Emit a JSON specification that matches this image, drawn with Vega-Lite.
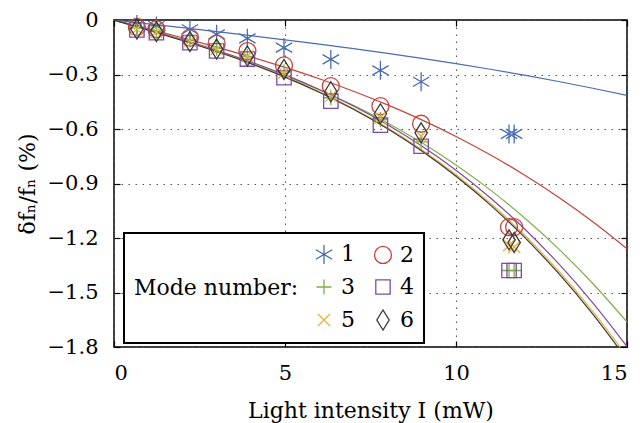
{
  "$schema": "https://vega.github.io/schema/vega-lite/v6.json",
  "width": 513,
  "height": 327,
  "autosize": {"type": "none"},
  "padding": {"left": 114, "top": 20, "right": 15, "bottom": 76},
  "config": {
    "font": "DejaVu Serif",
    "view": {"stroke": "#000", "strokeWidth": 1.5},
    "axis": {
      "domain": false,
      "labelFont": "DejaVu Serif", "labelFontSize": 21, "labelColor": "#000",
      "titleFont": "DejaVu Serif", "titleFontSize": 22, "titleFontWeight": "normal", "titleColor": "#000",
      "tickColor": "#000", "tickSize": -6, "tickWidth": 1.2,
      "gridColor": "#555", "gridDash": [1.5, 5.5], "gridWidth": 1.1
    },
    "legend": {"strokeWidth": 2}
  },
  "datasets": {
    "fit": [
      {"mode": "1", "I": 0, "df": 0}, {"mode": "1", "I": 1, "df": -0.0211}, {"mode": "1", "I": 2, "df": -0.0424}, {"mode": "1", "I": 3, "df": -0.0641}, {"mode": "1", "I": 4, "df": -0.0863}, {"mode": "1", "I": 5, "df": -0.1092}, {"mode": "1", "I": 6, "df": -0.1329}, {"mode": "1", "I": 7, "df": -0.1578}, {"mode": "1", "I": 8, "df": -0.1838}, {"mode": "1", "I": 9, "df": -0.2113}, {"mode": "1", "I": 10, "df": -0.2403}, {"mode": "1", "I": 11, "df": -0.2711}, {"mode": "1", "I": 12, "df": -0.3038}, {"mode": "1", "I": 13, "df": -0.3387}, {"mode": "1", "I": 14, "df": -0.3758}, {"mode": "1", "I": 15, "df": -0.4154},
      {"mode": "2", "I": 0, "df": 0}, {"mode": "2", "I": 1, "df": -0.0484}, {"mode": "2", "I": 2, "df": -0.0977}, {"mode": "2", "I": 3, "df": -0.1489}, {"mode": "2", "I": 4, "df": -0.2030}, {"mode": "2", "I": 5, "df": -0.2609}, {"mode": "2", "I": 6, "df": -0.3235}, {"mode": "2", "I": 7, "df": -0.3919}, {"mode": "2", "I": 8, "df": -0.4670}, {"mode": "2", "I": 9, "df": -0.5497}, {"mode": "2", "I": 10, "df": -0.641}, {"mode": "2", "I": 11, "df": -0.7418}, {"mode": "2", "I": 12, "df": -0.8532}, {"mode": "2", "I": 13, "df": -0.9759}, {"mode": "2", "I": 14, "df": -1.1111}, {"mode": "2", "I": 15, "df": -1.2596},
      {"mode": "3", "I": 0, "df": 0}, {"mode": "3", "I": 1, "df": -0.0552}, {"mode": "3", "I": 2, "df": -0.1120}, {"mode": "3", "I": 3, "df": -0.1717}, {"mode": "3", "I": 4, "df": -0.2359}, {"mode": "3", "I": 5, "df": -0.306}, {"mode": "3", "I": 6, "df": -0.3836}, {"mode": "3", "I": 7, "df": -0.4701}, {"mode": "3", "I": 8, "df": -0.567}, {"mode": "3", "I": 9, "df": -0.6758}, {"mode": "3", "I": 10, "df": -0.798}, {"mode": "3", "I": 11, "df": -0.9351}, {"mode": "3", "I": 12, "df": -1.0885}, {"mode": "3", "I": 13, "df": -1.2599}, {"mode": "3", "I": 14, "df": -1.4505}, {"mode": "3", "I": 15, "df": -1.662},
      {"mode": "4", "I": 0, "df": 0}, {"mode": "4", "I": 1, "df": -0.0533}, {"mode": "4", "I": 2, "df": -0.1084}, {"mode": "4", "I": 3, "df": -0.1670}, {"mode": "4", "I": 4, "df": -0.2310}, {"mode": "4", "I": 5, "df": -0.3021}, {"mode": "4", "I": 6, "df": -0.3822}, {"mode": "4", "I": 7, "df": -0.4729}, {"mode": "4", "I": 8, "df": -0.5761}, {"mode": "4", "I": 9, "df": -0.6935}, {"mode": "4", "I": 10, "df": -0.827}, {"mode": "4", "I": 11, "df": -0.9783}, {"mode": "4", "I": 12, "df": -1.1492}, {"mode": "4", "I": 13, "df": -1.3415}, {"mode": "4", "I": 14, "df": -1.557}, {"mode": "4", "I": 15, "df": -1.7974},
      {"mode": "5", "I": 0, "df": 0}, {"mode": "5", "I": 1, "df": -0.0549}, {"mode": "5", "I": 2, "df": -0.1117}, {"mode": "5", "I": 3, "df": -0.1720}, {"mode": "5", "I": 4, "df": -0.2379}, {"mode": "5", "I": 5, "df": -0.3112}, {"mode": "5", "I": 6, "df": -0.3937}, {"mode": "5", "I": 7, "df": -0.4871}, {"mode": "5", "I": 8, "df": -0.5934}, {"mode": "5", "I": 9, "df": -0.7143}, {"mode": "5", "I": 10, "df": -0.8518}, {"mode": "5", "I": 11, "df": -1.0076}, {"mode": "5", "I": 12, "df": -1.1837}, {"mode": "5", "I": 13, "df": -1.3817}, {"mode": "5", "I": 14, "df": -1.6037}, {"mode": "5", "I": 15, "df": -1.8513},
      {"mode": "6", "I": 0, "df": 0}, {"mode": "6", "I": 1, "df": -0.0554}, {"mode": "6", "I": 2, "df": -0.1127}, {"mode": "6", "I": 3, "df": -0.1737}, {"mode": "6", "I": 4, "df": -0.2402}, {"mode": "6", "I": 5, "df": -0.3142}, {"mode": "6", "I": 6, "df": -0.3975}, {"mode": "6", "I": 7, "df": -0.4918}, {"mode": "6", "I": 8, "df": -0.5991}, {"mode": "6", "I": 9, "df": -0.7212}, {"mode": "6", "I": 10, "df": -0.8601}, {"mode": "6", "I": 11, "df": -1.0174}, {"mode": "6", "I": 12, "df": -1.1952}, {"mode": "6", "I": 13, "df": -1.3952}, {"mode": "6", "I": 14, "df": -1.6193}, {"mode": "6", "I": 15, "df": -1.8693}
    ],
    "pts": [
      {"mode": "1", "I": 0.67, "df": -0.025}, {"mode": "1", "I": 1.24, "df": -0.033}, {"mode": "1", "I": 2.22, "df": -0.051}, {"mode": "1", "I": 3.0, "df": -0.079}, {"mode": "1", "I": 3.9, "df": -0.101}, {"mode": "1", "I": 4.97, "df": -0.152}, {"mode": "1", "I": 6.34, "df": -0.217}, {"mode": "1", "I": 7.79, "df": -0.277}, {"mode": "1", "I": 8.98, "df": -0.34}, {"mode": "1", "I": 11.55, "df": -0.627}, {"mode": "1", "I": 11.7, "df": -0.627},
      {"mode": "2", "I": 0.67, "df": -0.038}, {"mode": "2", "I": 1.24, "df": -0.051}, {"mode": "2", "I": 2.22, "df": -0.097}, {"mode": "2", "I": 3.0, "df": -0.13}, {"mode": "2", "I": 3.9, "df": -0.171}, {"mode": "2", "I": 4.97, "df": -0.25}, {"mode": "2", "I": 6.34, "df": -0.364}, {"mode": "2", "I": 7.79, "df": -0.474}, {"mode": "2", "I": 8.98, "df": -0.571}, {"mode": "2", "I": 11.55, "df": -1.14}, {"mode": "2", "I": 11.7, "df": -1.14},
      {"mode": "3", "I": 0.67, "df": -0.045}, {"mode": "3", "I": 1.24, "df": -0.06}, {"mode": "3", "I": 2.22, "df": -0.11}, {"mode": "3", "I": 3.0, "df": -0.155}, {"mode": "3", "I": 3.9, "df": -0.2}, {"mode": "3", "I": 4.97, "df": -0.285}, {"mode": "3", "I": 6.34, "df": -0.428}, {"mode": "3", "I": 7.79, "df": -0.548}, {"mode": "3", "I": 8.98, "df": -0.671}, {"mode": "3", "I": 11.55, "df": -1.379}, {"mode": "3", "I": 11.7, "df": -1.379},
      {"mode": "4", "I": 0.67, "df": -0.055}, {"mode": "4", "I": 1.24, "df": -0.07}, {"mode": "4", "I": 2.22, "df": -0.125}, {"mode": "4", "I": 3.0, "df": -0.17}, {"mode": "4", "I": 3.9, "df": -0.215}, {"mode": "4", "I": 4.97, "df": -0.318}, {"mode": "4", "I": 6.34, "df": -0.447}, {"mode": "4", "I": 7.79, "df": -0.579}, {"mode": "4", "I": 8.98, "df": -0.695}, {"mode": "4", "I": 11.55, "df": -1.379}, {"mode": "4", "I": 11.7, "df": -1.379},
      {"mode": "5", "I": 0.67, "df": -0.05}, {"mode": "5", "I": 1.24, "df": -0.065}, {"mode": "5", "I": 2.22, "df": -0.115}, {"mode": "5", "I": 3.0, "df": -0.16}, {"mode": "5", "I": 3.9, "df": -0.2}, {"mode": "5", "I": 4.97, "df": -0.29}, {"mode": "5", "I": 6.34, "df": -0.419}, {"mode": "5", "I": 7.79, "df": -0.538}, {"mode": "5", "I": 8.98, "df": -0.64}, {"mode": "5", "I": 11.55, "df": -1.24}, {"mode": "5", "I": 11.7, "df": -1.25},
      {"mode": "6", "I": 0.67, "df": -0.05}, {"mode": "6", "I": 1.24, "df": -0.064}, {"mode": "6", "I": 2.22, "df": -0.119}, {"mode": "6", "I": 3.0, "df": -0.16}, {"mode": "6", "I": 3.9, "df": -0.198}, {"mode": "6", "I": 4.97, "df": -0.272}, {"mode": "6", "I": 6.34, "df": -0.395}, {"mode": "6", "I": 7.79, "df": -0.516}, {"mode": "6", "I": 8.98, "df": -0.621}, {"mode": "6", "I": 11.55, "df": -1.21}, {"mode": "6", "I": 11.7, "df": -1.225}
    ]
  },
  "layer": [
    {
      "encoding": {
        "x": {"field": "I", "type": "quantitative", "scale": {"domain": [0, 15], "nice": false},
              "axis": {"orient": "bottom", "values": [0, 5, 10, 15], "title": "Light intensity I (mW)", "labelPadding": 21, "titlePadding": 17}},
        "y": {"field": "df", "type": "quantitative", "scale": {"domain": [-1.8, 0], "nice": false},
              "axis": {"orient": "left", "values": [0, -0.3, -0.6, -0.9, -1.2, -1.5, -1.8], "title": "δfₙ/fₙ (%)", "labelPadding": 22, "titlePadding": 8,
                       "labelExpr": "datum.value == 0 ? '0' : replace(format(datum.value, '.1f'), '-', '−')"}}
      },
      "layer": [
        {"data": {"name": "fit"}, "transform": [{"filter": "datum.mode == '1'"}], "mark": {"type": "line", "strokeWidth": 1.2, "clip": true, "interpolate": "monotone", "color": "#4a6cb0"}},
        {"data": {"name": "fit"}, "transform": [{"filter": "datum.mode == '2'"}], "mark": {"type": "line", "strokeWidth": 1.2, "clip": true, "interpolate": "monotone", "color": "#c4443a"}},
        {"data": {"name": "fit"}, "transform": [{"filter": "datum.mode == '3'"}], "mark": {"type": "line", "strokeWidth": 1.2, "clip": true, "interpolate": "monotone", "color": "#80ae4a"}},
        {"data": {"name": "fit"}, "transform": [{"filter": "datum.mode == '4'"}], "mark": {"type": "line", "strokeWidth": 1.2, "clip": true, "interpolate": "monotone", "color": "#7d4c9b"}},
        {"data": {"name": "fit"}, "transform": [{"filter": "datum.mode == '5'"}], "mark": {"type": "line", "strokeWidth": 1.2, "clip": true, "interpolate": "monotone", "color": "#e8b13c"}},
        {"data": {"name": "fit"}, "transform": [{"filter": "datum.mode == '6'"}], "mark": {"type": "line", "strokeWidth": 1.2, "clip": true, "interpolate": "monotone", "color": "#3a3a3a"}}
      ]
    },
    {
      "data": {"name": "pts"},
      "mark": {"type": "point", "filled": false, "strokeWidth": 1.3, "size": 400, "opacity": 1},
      "encoding": {
        "x": {"field": "I", "type": "quantitative", "axis": {"orient": "top", "values": [0, 5, 10, 15], "labels": false, "grid": false, "title": null}},
        "y": {"field": "df", "type": "quantitative", "axis": {"orient": "right", "values": [0, -0.3, -0.6, -0.9, -1.2, -1.5, -1.8], "labels": false, "grid": false, "title": null}},
        "color": {"field": "mode", "type": "nominal",
                  "scale": {"domain": ["1", "2", "3", "4", "5", "6"], "range": ["#4a6cb0", "#c4443a", "#80ae4a", "#7d4c9b", "#e8b13c", "#3a3a3a"]},
                  "legend": {"title": "Mode number:", "orient": "none", "legendX": 10, "legendY": 213, "direction": "horizontal", "columns": 2,
                             "titleOrient": "left", "strokeColor": "#000", "fillColor": "#fff", "padding": 10,
                             "labelFont": "DejaVu Serif", "labelFontSize": 22, "labelColor": "#000",
                             "titleFont": "DejaVu Serif", "titleFontSize": 22, "titleFontWeight": "normal", "titleColor": "#000",
                             "symbolSize": 400, "symbolStrokeWidth": 1.3, "rowPadding": 9, "columnPadding": 16, "labelOffset": 6, "titlePadding": 14}},
        "shape": {"field": "mode", "type": "nominal",
                  "scale": {"domain": ["1", "2", "3", "4", "5", "6"],
                            "range": ["M0,-0.95L0,0.95M-0.82,-0.475L0.82,0.475M-0.82,0.475L0.82,-0.475",
                                      "M0.85,0A0.85,0.85,0,1,1,-0.85,0A0.85,0.85,0,1,1,0.85,0Z",
                                      "M-0.75,0L0.75,0M0,-0.75L0,0.75",
                                      "M-0.72,-0.72L0.72,-0.72L0.72,0.72L-0.72,0.72Z",
                                      "M-0.6,-0.6L0.6,0.6M-0.6,0.6L0.6,-0.6",
                                      "M0,-1L0.62,0L0,1L-0.62,0Z"]},
                  "legend": {"title": "Mode number:", "orient": "none", "legendX": 10, "legendY": 213, "direction": "horizontal", "columns": 2,
                             "titleOrient": "left", "strokeColor": "#000", "fillColor": "#fff", "padding": 10,
                             "labelFont": "DejaVu Serif", "labelFontSize": 22, "labelColor": "#000",
                             "titleFont": "DejaVu Serif", "titleFontSize": 22, "titleFontWeight": "normal", "titleColor": "#000",
                             "symbolSize": 400, "symbolStrokeWidth": 1.3, "rowPadding": 9, "columnPadding": 16, "labelOffset": 6, "titlePadding": 14}}
      }
    }
  ],
  "resolve": {"axis": {"x": "independent", "y": "independent"}}
}
